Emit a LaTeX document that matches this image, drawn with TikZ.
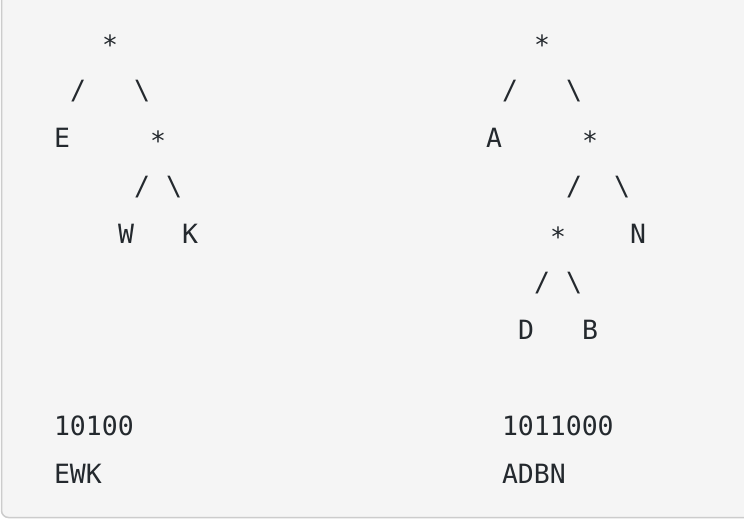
\documentclass[tikz,border=0pt]{standalone}
\usepackage{fontspec}
\setmonofont{DejaVu Sans Mono}
\definecolor{codebg}{HTML}{F5F5F5}
\definecolor{codeborder}{HTML}{CCCCCC}
\definecolor{codefg}{HTML}{24292E}
\begin{document}
\begin{tikzpicture}[x=1pt,y=-1pt,
  ch/.style={anchor=base,inner sep=0pt,outer sep=0pt,text=codefg,font=\ttfamily\fontsize{26.5}{26.5}\selectfont},
  star/.style={ch,yshift=-3pt},
  ln/.style={anchor=base west,inner sep=0pt,outer sep=0pt,text=codefg,font=\ttfamily\fontsize{26.5}{26.5}\selectfont}]
\useasboundingbox (0,0) rectangle (744,528);
\begin{scope}
\clip (0,0) rectangle (744,528);
\draw[codeborder,fill=codebg,line width=1.5pt,rounded corners=7pt] (1.5,-20) rectangle (770,517.5);
\end{scope}
% left tree (x0 = 54)
\newcommand{\lx}[1]{54+16*#1+8}
\newcommand{\rx}[1]{486+16*#1+8}
\newcommand{\ry}[1]{51+48*#1}
\node[star] (L0) at ({\lx{3}},{\ry{0}}) {*};
\node[ch] (L1a) at ({\lx{1}},{\ry{1}}) {/};
\node[ch] (L1b) at ({\lx{5}},{\ry{1}}) {\textbackslash};
\node[ch] (LE) at ({\lx{0}},{\ry{2}}) {E};
\node[star] (L2) at ({\lx{6}},{\ry{2}}) {*};
\node[ch] (L3a) at ({\lx{5}},{\ry{3}}) {/};
\node[ch] (L3b) at ({\lx{7}},{\ry{3}}) {\textbackslash};
\node[ch] (LW) at ({\lx{4}},{\ry{4}}) {W};
\node[ch] (LK) at ({\lx{8}},{\ry{4}}) {K};
% right tree (x0 = 486)
\node[star] (R0) at ({\rx{3}},{\ry{0}}) {*};
\node[ch] (R1a) at ({\rx{1}},{\ry{1}}) {/};
\node[ch] (R1b) at ({\rx{5}},{\ry{1}}) {\textbackslash};
\node[ch] (RA) at ({\rx{0}},{\ry{2}}) {A};
\node[star] (R2) at ({\rx{6}},{\ry{2}}) {*};
\node[ch] (R3a) at ({\rx{5}},{\ry{3}}) {/};
\node[ch] (R3b) at ({\rx{8}},{\ry{3}}) {\textbackslash};
\node[star] (R4) at ({\rx{4}},{\ry{4}}) {*};
\node[ch] (RN) at ({\rx{9}},{\ry{4}}) {N};
\node[ch] (R5a) at ({\rx{3}},{\ry{5}}) {/};
\node[ch] (R5b) at ({\rx{5}},{\ry{5}}) {\textbackslash};
\node[ch] (RD) at ({\rx{2}},{\ry{6}}) {D};
\node[ch] (RB) at ({\rx{6}},{\ry{6}}) {B};
% bottom lines
\node[ln] (Lbits) at (54,{\ry{8}}) {10100};
\node[ln] (Lseq) at (54,{\ry{9}}) {EWK};
\node[ln] (Rbits) at (502,{\ry{8}}) {1011000};
\node[ln] (Rseq) at (502,{\ry{9}}) {ADBN};
\end{tikzpicture}
\end{document}
